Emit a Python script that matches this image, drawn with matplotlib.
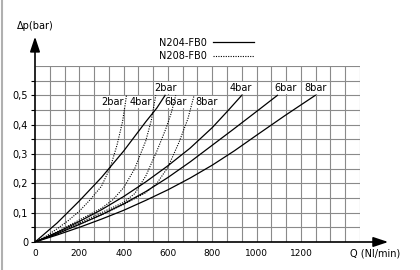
import numpy as np
import matplotlib
matplotlib.use("Agg")
import matplotlib.pyplot as plt
from matplotlib.lines import Line2D

# N204-FB0 (solid) : flow Q [Nl/min] vs pressure drop [bar]
q_204_2 = [0, 100, 200, 300, 400, 500, 550, 587]
p_204_2 = [0, 0.065, 0.14, 0.22, 0.31, 0.41, 0.457, 0.5]
q_204_4 = [0, 100, 200, 300, 400, 500, 600, 700, 800, 870, 933]
p_204_4 = [0, 0.033, 0.07, 0.11, 0.155, 0.205, 0.26, 0.32, 0.39, 0.447, 0.5]
q_204_6 = [0, 100, 200, 300, 400, 500, 600, 700, 800, 900, 1000, 1094]
p_204_6 = [0, 0.028, 0.06, 0.093, 0.13, 0.172, 0.22, 0.273, 0.33, 0.387, 0.445, 0.5]
q_204_8 = [0, 100, 200, 300, 400, 500, 600, 700, 800, 900, 1000, 1130, 1265]
p_204_8 = [0, 0.024, 0.05, 0.078, 0.108, 0.142, 0.178, 0.218, 0.262, 0.311, 0.364, 0.432, 0.5]

# N208-FB0 (dotted)
q_208_2 = [0, 50, 100, 150, 200, 250, 300, 340, 370, 395, 413]
p_208_2 = [0, 0.02, 0.045, 0.073, 0.105, 0.145, 0.19, 0.255, 0.33, 0.41, 0.5]
q_208_4 = [0, 100, 200, 300, 350, 400, 450, 500, 525, 545]
p_208_4 = [0, 0.035, 0.075, 0.115, 0.143, 0.185, 0.25, 0.345, 0.415, 0.5]
q_208_6 = [0, 100, 200, 300, 400, 450, 500, 550, 590, 615, 635]
p_208_6 = [0, 0.03, 0.065, 0.1, 0.135, 0.165, 0.225, 0.31, 0.385, 0.44, 0.5]
q_208_8 = [0, 100, 200, 300, 400, 500, 550, 600, 650, 690, 718]
p_208_8 = [0, 0.028, 0.06, 0.093, 0.128, 0.168, 0.2, 0.255, 0.34, 0.42, 0.5]

solid_labels = ["2bar", "4bar", "6bar", "8bar"]
solid_label_q = [591, 930, 1133, 1264]
dotted_labels = ["2bar", "4bar", "6bar", "8bar"]
dotted_label_q = [350, 477, 636, 773]

x_ticks = [0, 200, 400, 600, 800, 1000, 1200]
y_ticks = [0, 0.1, 0.2, 0.3, 0.4, 0.5]
y_ticklabels = ["0", "0,1", "0,2", "0,3", "0,4", "0,5"]

W, H = 420, 270
fig = plt.figure(figsize=(W / 100, H / 100), dpi=100)
ax = fig.add_axes([35 / W, 28 / H, 325 / W, 176 / H])
ax.set_xlim(0, 1466.7)
ax.set_ylim(0, 0.6)
for s in ax.spines.values():
    s.set_visible(False)

# grid (every 66.7 Nl/min and 0.05 bar)
gc = "#8a8a8a"
ax.vlines(np.arange(1, 23) * 200 / 3, 0, 0.6, color=gc, lw=0.8, zorder=1)
ax.hlines(np.arange(1, 13) * 0.05, 0, 1466.7, color=gc, lw=0.8, zorder=1)

# axes with arrows
ax.annotate("", xy=(0, 0.70), xytext=(0, 0), annotation_clip=False,
            arrowprops=dict(arrowstyle="-|>,head_length=0.9,head_width=0.3",
                            color="k", lw=1.2, mutation_scale=10, shrinkA=0, shrinkB=0))
ax.annotate("", xy=(1594, 0), xytext=(0, 0), annotation_clip=False,
            arrowprops=dict(arrowstyle="-|>,head_length=0.9,head_width=0.3",
                            color="k", lw=1.2, mutation_scale=10, shrinkA=0, shrinkB=0))

solid = dict(color="k", lw=0.9, zorder=4)
dotted = dict(color="k", lw=0.8, ls=(0, (1, 1.2)), zorder=4)
l1, = ax.plot(q_204_2, p_204_2, **solid)
ax.plot(q_204_4, p_204_4, **solid)
ax.plot(q_204_6, p_204_6, **solid)
ax.plot(q_204_8, p_204_8, **solid)
l2, = ax.plot(q_208_2, p_208_2, **dotted)
ax.plot(q_208_4, p_208_4, **dotted)
ax.plot(q_208_6, p_208_6, **dotted)
ax.plot(q_208_8, p_208_8, **dotted)

box = dict(facecolor="white", edgecolor="none", pad=0.6)
for lab, q in zip(solid_labels, solid_label_q):
    ax.text(q, 0.525, lab, ha="center", va="center", fontsize=7, bbox=box, zorder=3)
for lab, q in zip(dotted_labels, dotted_label_q):
    ax.text(q, 0.478, lab, ha="center", va="center", fontsize=7, bbox=box, zorder=3)

ax.set_xticks(x_ticks)
ax.set_xticklabels([str(v) for v in x_ticks], fontsize=6.5)
ax.set_yticks(y_ticks)
ax.set_yticklabels(y_ticklabels, fontsize=7)
ax.set_yticks(np.arange(1, 12, 2) * 0.05, minor=True)
ax.tick_params(axis="x", length=0, pad=5)
ax.tick_params(axis="y", which="both", length=3, width=0.8, pad=2, direction="out")

ax.legend([l1, l2], ["N204-FB0", "N208-FB0"], loc="upper left",
          bbox_to_anchor=(154 / W, 1 - 33 / H), bbox_transform=fig.transFigure,
          frameon=False, fontsize=7, markerfirst=False, handlelength=4.3,
          labelspacing=0.35, borderpad=0, handletextpad=0.6)

fig.text(17 / W, 1 - 26 / H, "Δp(bar)", fontsize=7, ha="left", va="center")
fig.text(350 / W, 1 - 253 / H, "Q (Nl/min)", fontsize=7, ha="left", va="center")
fig.add_artist(Line2D([1.5 / W, 1.5 / W], [0, 1], color="#b0b0b0", lw=1.5))

fig.savefig("out.png", dpi=100)
